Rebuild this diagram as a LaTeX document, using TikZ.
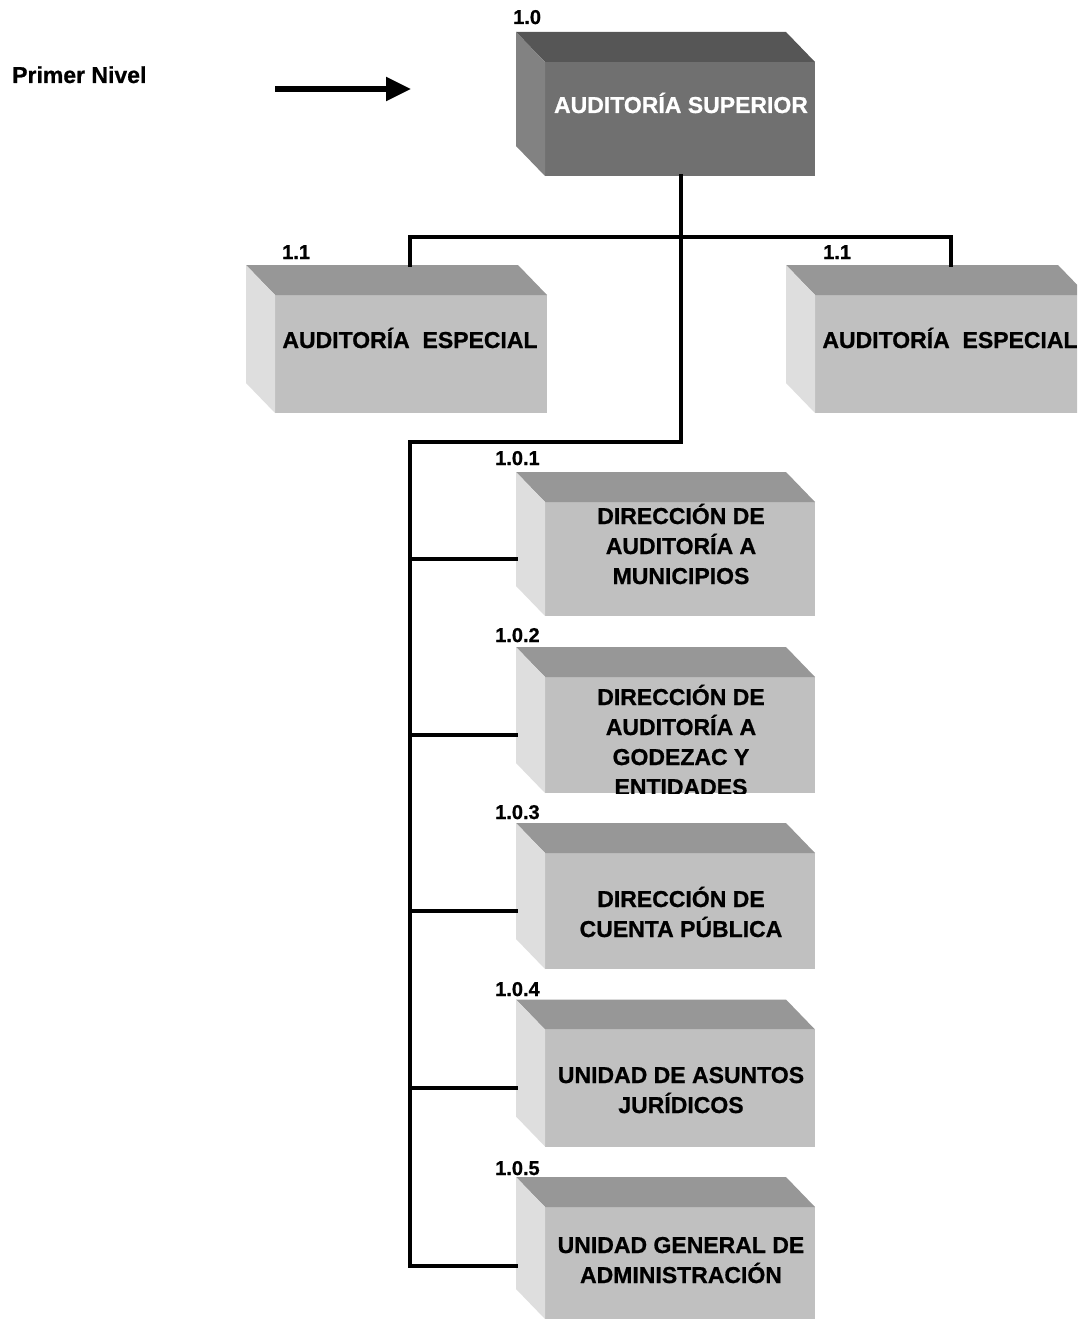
\documentclass[tikz,border=0pt]{standalone}
\usepackage{fontspec}
\setmainfont{Liberation Sans}[BoldFont={Liberation Sans Bold},BoldFeatures={FakeBold=0.8}]
\usetikzlibrary{arrows.meta,calc}
\definecolor{dfront}{RGB}{112,112,112}
\definecolor{dtop}{RGB}{86,86,86}
\definecolor{dleft}{RGB}{130,130,130}
\definecolor{lfront}{RGB}{192,192,192}
\definecolor{ltop}{RGB}{151,151,151}
\definecolor{lleft}{RGB}{222,222,222}
\newcommand{\cubefaces}[3]{%
  \fill[#2] (#1.north west) -- ++(-29,-30) -- ($(#1.north east)+(-29,-30)$) -- (#1.north east) -- cycle;
  \fill[#3] (#1.north west) -- ++(-29,-30) -- ($(#1.south west)+(-29,-30)$) -- (#1.south west) -- cycle;}
\tikzset{
  face/.style={inner sep=0pt, outer sep=0pt, minimum width=270pt, fill=lfront},
  boxtext/.style={font=\fontsize{23}{30}\selectfont\bfseries, align=center, inner sep=0pt, anchor=base},
  numlabel/.style={font=\fontsize{20}{22}\selectfont\bfseries, inner sep=0pt, anchor=base west},
  conn/.style={line width=3.2pt, line join=miter, line cap=rect},
}
\begin{document}
\begin{tikzpicture}[x=1pt,y=-1pt]
\useasboundingbox (0,0) rectangle (1077,1319);
\clip (0,0) rectangle (1077,1319);

% level label and arrow
\node[font=\fontsize{23}{26}\selectfont\bfseries, inner sep=0pt, anchor=base west] (lvl) at (12,83) {Primer Nivel};
\coordinate (arrS) at (275,89);
\coordinate (arrE) at (411,89);
\draw[line width=5.5pt, -{Triangle[length=25pt,width=23pt]}] (arrS) -- (arrE);

% top box
\node[face, fill=dfront, minimum height=114pt] (top) at (680,119) {};
\cubefaces{top}{dtop}{dleft}
\node[boxtext, text=white] (toptxt) at (681,113) {AUDITORÍA SUPERIOR};
\node[numlabel] (n10) at (513,24) {1.0};

% side boxes
\node[face, minimum width=272pt, minimum height=118pt] (ae1) at (411,354) {};
\cubefaces{ae1}{ltop}{lleft}
\node[boxtext] (ae1txt) at (410,348) {AUDITORÍA\ \ ESPECIAL};
\node[numlabel] (n11a) at (282,259) {1.1};

\node[face, minimum width=272pt, minimum height=118pt] (ae2) at (951,354) {};
\cubefaces{ae2}{ltop}{lleft}
\node[boxtext] (ae2txt) at (950,348) {AUDITORÍA\ \ ESPECIAL};
\node[numlabel] (n11b) at (823,259) {1.1};

% lower boxes
\node[face, minimum height=114pt] (b1) at (680,559) {};
\cubefaces{b1}{ltop}{lleft}
\node[boxtext] (b1txt) at (681,584) {DIRECCIÓN DE\\AUDITORÍA A\\MUNICIPIOS};
\node[numlabel] (n101) at (495,465) {1.0.1};

\node[face, minimum height=116pt] (b2) at (680,735) {};
\cubefaces{b2}{ltop}{lleft}
\begin{scope}
\clip (b2.north west) rectangle (b2.south east);
\node[boxtext] (b2txt) at (681,795) {DIRECCIÓN DE\\AUDITORÍA A\\GODEZAC Y\\ENTIDADES};
\end{scope}
\node[numlabel] (n102) at (495,642) {1.0.2};

\node[face, minimum height=116pt] (b3) at (680,911) {};
\cubefaces{b3}{ltop}{lleft}
\node[boxtext] (b3txt) at (681,937) {DIRECCIÓN DE\\CUENTA PÚBLICA};
\node[numlabel] (n103) at (495,819) {1.0.3};

\node[face, minimum height=117pt] (b4) at (680,1088) {};
\cubefaces{b4}{ltop}{lleft}
\node[boxtext] (b4txt) at (681,1113) {UNIDAD DE ASUNTOS\\JURÍDICOS};
\node[numlabel] (n104) at (495,996) {1.0.4};

\node[face, minimum height=112pt] (b5) at (680,1263) {};
\cubefaces{b5}{ltop}{lleft}
\node[boxtext] (b5txt) at (681,1283) {UNIDAD GENERAL DE\\ADMINISTRACIÓN};
\node[numlabel] (n105) at (495,1175) {1.0.5};

% connectors
\coordinate (bus) at (681,237);
\coordinate (elbow) at (681,442);
\coordinate (spineEnd) at (410,1266);
\draw[conn] (top.south -| bus) -- (elbow) -| (spineEnd);
\draw[conn] ($(ae1.north)+(-1,-30)$) |- (bus) -| ($(ae2.north)+(0,-30)$);
\foreach \b in {b1,b2,b3,b4}{
  \draw[conn] (spineEnd |- \b.west) -- ($(\b.west)+(-29,0)$);
}
\draw[conn] (spineEnd) -- ($(spineEnd -| b5.west)+(-29,0)$);
\end{tikzpicture}
\end{document}
